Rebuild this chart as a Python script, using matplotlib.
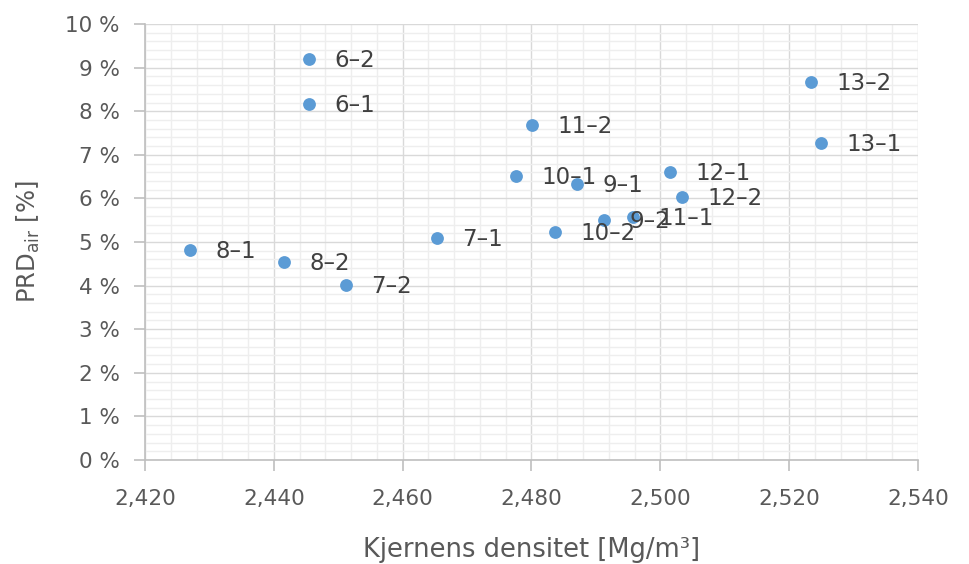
import matplotlib
matplotlib.use("Agg")
import matplotlib.pyplot as plt
from matplotlib.ticker import MultipleLocator, FuncFormatter

# Core samples: density [Mg/m3] and air voids PRD_air [%]
labels = ["6–2", "6–1", "13–2", "13–1", "11–2", "12–1", "10–1", "9–1",
          "12–2", "9–2", "11–1", "10–2", "7–1", "8–1", "8–2", "7–2"]
density = [2.4455, 2.4455, 2.5234, 2.5250, 2.4801, 2.5015, 2.4776, 2.4871,
           2.5034, 2.4913, 2.4958, 2.4837, 2.4653, 2.4270, 2.4416, 2.4512]
prd_air = [9.20, 8.17, 8.67, 7.27, 7.68, 6.61, 6.51, 6.33,
           6.03, 5.50, 5.57, 5.23, 5.09, 4.82, 4.54, 4.01]

text_color = "#595959"
dot_color = "#5B9BD5"

plt.rcParams["font.family"] = ["DejaVu Sans"]

fig = plt.figure(figsize=(9.69, 5.64), dpi=100)
ax = fig.add_axes([0.1496, 0.1844, 0.9474 - 0.1496, 0.9574 - 0.1844])

ax.set_xlim(2.420, 2.540)
ax.set_ylim(0, 10)

ax.xaxis.set_major_locator(MultipleLocator(0.020))
ax.xaxis.set_minor_locator(MultipleLocator(0.004))
ax.yaxis.set_major_locator(MultipleLocator(1))
ax.yaxis.set_minor_locator(MultipleLocator(0.2))

ax.xaxis.set_major_formatter(FuncFormatter(lambda v, p: f"{v:.3f}".replace(".", ",")))
ax.yaxis.set_major_formatter(FuncFormatter(lambda v, p: f"{v:.0f} %"))

ax.grid(which="minor", color="#EEEEEE", linewidth=1.0)
ax.grid(which="major", color="#D9D9D9", linewidth=1.0)
ax.set_axisbelow(True)

for side in ("top", "right"):
    ax.spines[side].set_visible(False)
for side in ("left", "bottom"):
    ax.spines[side].set_color("#BFBFBF")
    ax.spines[side].set_linewidth(1.2)

ax.tick_params(which="major", length=8, width=1.2, color="#BFBFBF",
               labelcolor=text_color, labelsize=15.5)
ax.tick_params(which="minor", length=0)
ax.tick_params(axis="x", pad=13)
ax.tick_params(axis="y", pad=10)

ax.scatter(density, prd_air, s=85, color=dot_color, zorder=3, linewidths=0)

for lab, x, y in zip(labels, density, prd_air):
    ax.annotate(lab, (x, y), xytext=(18, -1), textcoords="offset points",
                va="center", ha="left", fontsize=16.5, color="#404040", zorder=4)

ax.set_xlabel("Kjernens densitet [Mg/m³]", fontsize=18.5, color=text_color, labelpad=20)
ax.set_ylabel("PRD$_{\\mathregular{air}}$ [%]", fontsize=17.5, color=text_color, labelpad=17)

fig.savefig("out.png", dpi=100)
